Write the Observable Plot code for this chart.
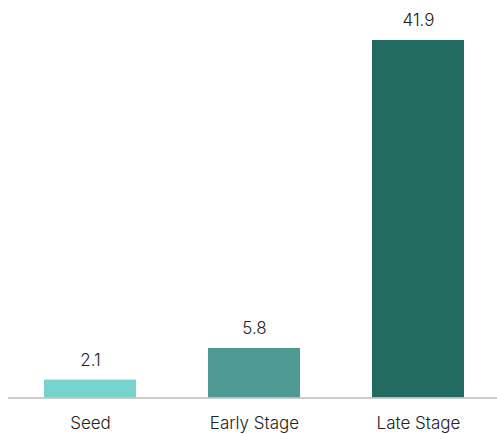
<!DOCTYPE html>
<html>
<head>
<meta charset="utf-8">
<script src="https://cdn.jsdelivr.net/npm/d3@7"></script>
<script src="https://cdn.jsdelivr.net/npm/@observablehq/plot@0.6"></script>
<style>
  html, body { margin: 0; padding: 0; background: #fff; }
  #chart svg { display: block; }
</style>
</head>
<body>
<div id="chart"></div>
<script>
const stages = ["Seed", "Early Stage", "Late Stage"];
const values = [2.1, 5.8, 41.9];
const colors = ["#76d3cd", "#4f9a92", "#236b61"];

const data = stages.map((s, i) => ({stage: s, value: values[i]}));

const chart = Plot.plot({
  width: 497,
  height: 434,
  marginLeft: 8,
  marginRight: 0,
  marginTop: 40,
  marginBottom: 36.5,
  style: {fontFamily: "Inter, 'Noto Sans', sans-serif", background: "#fff", color: "#222"},
  x: {domain: stages, padding: 0.442, paddingOuter: 0.203, align: 0.523, label: null},
  y: {domain: [0, 41.9], axis: null},
  color: {domain: stages, range: colors},
  marks: [
    Plot.barY(data, {x: "stage", y: "value", fill: "stage"}),
    Plot.ruleY([0], {stroke: "#bbbbbb", strokeWidth: 1.5}),
    Plot.text(data, {x: "stage", y: "value", text: d => d.value.toFixed(1), dy: -20, fontSize: 17, fontWeight: 300, fill: "#222"}),
    Plot.axisX({tickSize: 0, tickPadding: 19, fontSize: 17, fontWeight: 300, fill: "#222", label: null})
  ]
});
document.getElementById("chart").appendChild(chart);
</script>
</body>
</html>
